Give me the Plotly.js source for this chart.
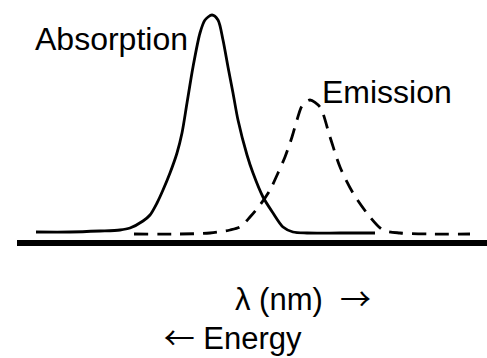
<!DOCTYPE html>
<html>
<head>
<meta charset="utf-8">
<script src="https://cdn.plot.ly/plotly-3.0.1.min.js"></script>
<style>html,body{margin:0;padding:0;background:#fff;}#chart{width:487px;height:358px;}</style>
</head>
<body>
<div id="chart"></div>
<script>
// Wavelength positions (arbitrary units, increasing to the right) and intensities (arbitrary units above baseline)
var absWavelength = [36, 70, 100, 120, 130, 143, 150, 157, 163, 170, 177, 182, 187, 193, 200, 205, 212, 218, 223, 228, 233, 238, 247, 253, 263, 273, 283, 293, 307, 340, 375];
var absIntensity  = [11, 11, 12, 13, 15, 22, 28, 40, 53, 70, 90, 110, 140, 176, 210, 223, 228, 223, 203, 176, 150, 123, 88, 70, 46, 30, 16, 11, 10, 10, 10];

var emWavelength = [134, 180, 210, 230, 240, 250, 260, 270, 278, 285, 292, 297, 302, 310, 320, 330, 340, 353, 370, 383, 400, 430, 470];
var emIntensity  = [9, 9, 10, 13, 16, 26, 38, 53, 70, 86, 106, 123, 137, 143, 136, 106, 76, 50, 26, 13, 10, 9, 9];

var arrowSpan = function(ch){ return '<span style="font-family:Noto Sans CJK SC">' + ch + '</span>'; };
var labels = {
  absorption: "Absorption",
  emission: "Emission",
  xLabel: "λ (nm)  " + arrowSpan("→") + "\u00a0",
  energy: "\u00a0" + arrowSpan("←") + " Energy"
};

var traces = [
  {x: absWavelength, y: absIntensity, type: 'scatter', mode: 'lines',
   line: {color: '#000', width: 2.8, shape: 'spline', smoothing: 0.8}, hoverinfo: 'skip'},
  {x: emWavelength, y: emIntensity, type: 'scatter', mode: 'lines',
   line: {color: '#000', width: 2.8, shape: 'spline', smoothing: 0.8, dash: '14px,9px'}, hoverinfo: 'skip'}
];

var font = {family: 'Liberation Sans, Arial, sans-serif', color: '#000'};
function f(size){ return Object.assign({}, font, {size: size}); }

// plot area: left 14px, top 0, height 253px (y from -10 to 243 -> 1 unit per px)
var plotH = 253;
function py(p){ return (plotH - p) / plotH; }
function px(p){ return (p - 14) / 473; }

var layout = {
  width: 487, height: 358,
  margin: {l: 14, r: 0, t: 0, b: 358 - plotH, pad: 0},
  paper_bgcolor: '#fff', plot_bgcolor: '#fff',
  showlegend: false,
  xaxis: {range: [14, 487], showgrid: false, zeroline: false, showticklabels: false, ticks: '',
          showline: false, fixedrange: true},
  yaxis: {range: [-10, 243], showgrid: false, zeroline: false, showticklabels: false, ticks: '',
          showline: false, fixedrange: true},
  shapes: [
    {type: 'line', xref: 'x', yref: 'y', x0: 17, x1: 490, y0: 0, y1: 0,
     line: {color: '#000', width: 6}}
  ],
  annotations: [
    {text: labels.absorption, x: px(33), y: py(39), xref: 'paper', yref: 'paper', xanchor: 'left', yanchor: 'middle', showarrow: false, font: f(32)},
    {text: labels.emission, x: px(320), y: py(92), xref: 'paper', yref: 'paper', xanchor: 'left', yanchor: 'middle', showarrow: false, font: f(32)},
    {text: labels.xLabel, x: px(233), y: py(297), xref: 'paper', yref: 'paper', xanchor: 'left', yanchor: 'middle', showarrow: false, font: f(31)},
    {text: labels.energy, x: px(154), y: py(335), xref: 'paper', yref: 'paper', xanchor: 'left', yanchor: 'middle', showarrow: false, borderpad: 0, font: f(31)}
  ]
};

Plotly.newPlot('chart', traces, layout, {staticPlot: true, displayModeBar: false});
</script>
</body>
</html>
